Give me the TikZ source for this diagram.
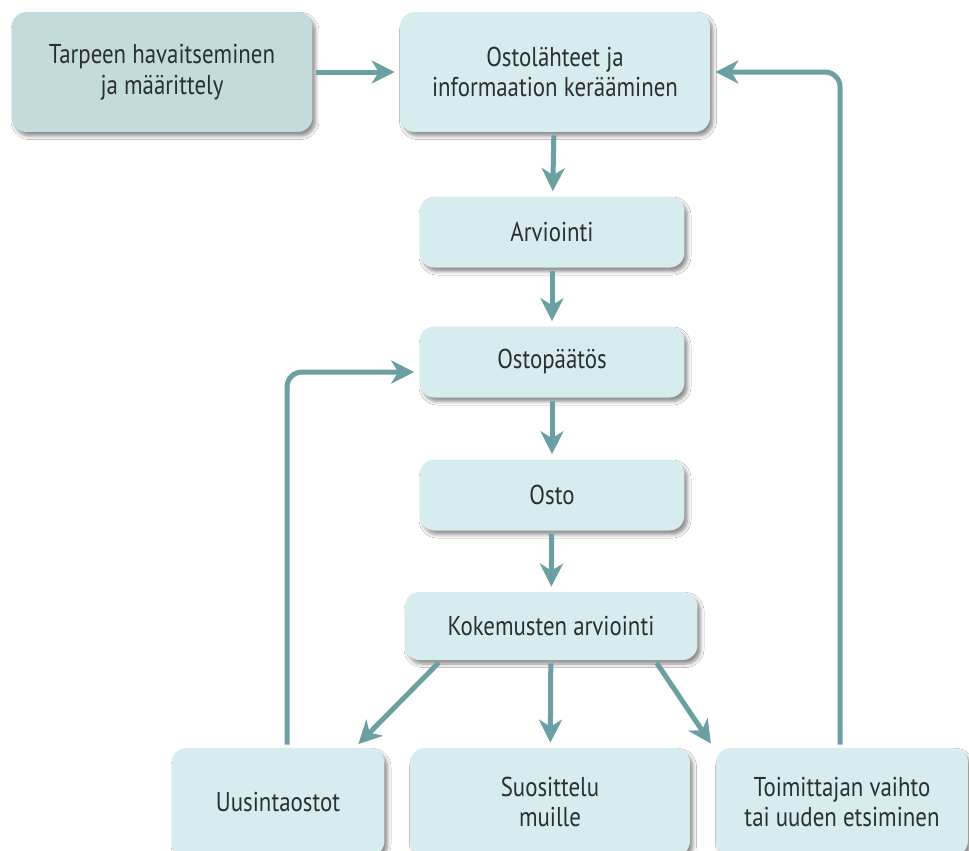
\documentclass[tikz,border=0pt]{standalone}
\usepackage{fontspec}
\setmainfont{PT Sans}[FakeStretch=0.84]
\usetikzlibrary{arrows.meta,calc,shadows.blur}

\definecolor{boxfill}{HTML}{D6ECEE}
\definecolor{startfill}{HTML}{C4DBDC}
\definecolor{arrowcol}{HTML}{6B9FA2}
\definecolor{textcol}{HTML}{2A2F2F}

\tikzset{
    stage/.style={rectangle, rounded corners=0.3cm, fill=boxfill, text=textcol,
        align=center, font=\fontsize{15.5}{17.5}\selectfont,
        blur shadow={shadow xshift=0.06cm, shadow yshift=-0.08cm,
            shadow blur steps=6, shadow opacity=45}},
    flow/.style={draw=arrowcol, line width=0.1cm,
        -{Stealth[length=0.46cm, width=0.46cm, inset=0.14cm]},
        shorten >=0.1cm, shorten <=0.06cm}
}

\begin{document}
\begin{tikzpicture}[x=0.02cm, y=-0.02cm]
    % Canvas
    \useasboundingbox (0,0) rectangle (969,850);
    \clip (0,0) rectangle (969,850);
    \fill[white] (0,0) rectangle (969,850);

    % Main stages
    \node[stage, fill=startfill, minimum width=6.02cm, minimum height=2.4cm] (need) at (162,72)
        {Tarpeen havaitseminen\\ja määrittely};
    \node[stage, minimum width=6.2cm, minimum height=2.4cm] (info) at (555,72)
        {Ostolähteet ja\\informaation kerääminen};
    \node[stage, minimum width=5.3cm, minimum height=1.42cm] (arvio) at (552,232) {Arviointi};
    \node[stage, minimum width=5.3cm, minimum height=1.42cm] (paatos) at (552,362) {Ostopäätös};
    \node[stage, minimum width=5.3cm, minimum height=1.42cm] (osto) at (552,495) {Osto};
    \node[stage, minimum width=5.86cm, minimum height=1.36cm] (kokemus) at (551,626) {Kokemusten arviointi};

    % Outcomes
    \node[stage, minimum width=4.26cm, minimum height=2.16cm] (uusinta) at (278,802) {Uusintaostot};
    \node[stage, minimum width=5.6cm, minimum height=2.16cm] (suositus) at (550,802) {Suosittelu\\muille};
    \node[stage, minimum width=5.04cm, minimum height=2.16cm] (vaihto) at (842,802)
        {Toimittajan vaihto\\tai uuden etsiminen};

    % Loop corners
    \coordinate (loopL) at (287,372);
    \coordinate (loopR) at (840,72);

    % Main flow
    \draw[flow] (need) -- (info);
    \draw[flow] (info) -- (arvio);
    \draw[flow] (arvio) -- (paatos);
    \draw[flow] (paatos) -- (osto);
    \draw[flow] (osto) -- (kokemus);

    % Branches
    \draw[flow] ($(kokemus.south)+(-110,0)$) -- ($(uusinta.north east)+(-30,0)$);
    \draw[flow] (kokemus) -- (suositus);
    \draw[flow] ($(kokemus.south)+(104,0)$) -- ($(vaihto.north west)+(-2,0)$);

    % Feedback loops
    \draw[flow, rounded corners=0.3cm] (loopL |- uusinta.north) -- (loopL) -- (loopL -| paatos.west);
    \draw[flow, rounded corners=0.3cm] (loopR |- vaihto.north) -- (loopR) -- (info.east);
\end{tikzpicture}
\end{document}
